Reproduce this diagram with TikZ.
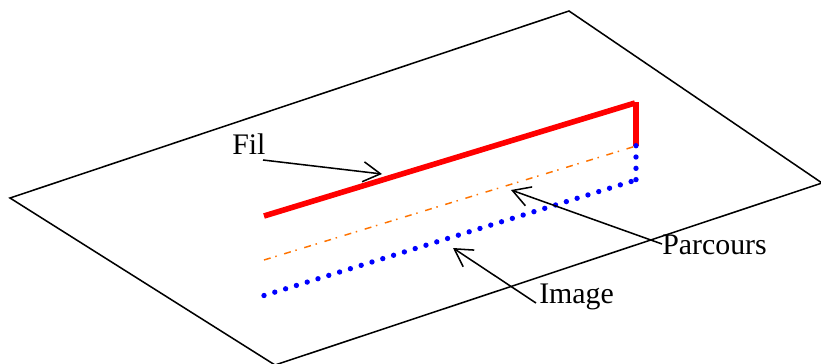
\documentclass[tikz,border=0pt]{standalone}
\usepackage{fontspec}
\setmainfont{Liberation Serif}
\usetikzlibrary{arrows.meta}
\begin{document}
\begin{tikzpicture}[x=0.75pt,y=-0.75pt,
  plane/.style={draw=black,line width=1.15pt,line join=miter},
  wire/.style={draw=red,line width=4.2pt},
  pathline/.style={draw=orange!90!red,line width=1.1pt,dash pattern=on 5.2pt off 3.6pt on 1.1pt off 5.9pt},
  imageline/.style={draw=blue,line width=4pt,line cap=round,dash pattern=on 0pt off 8.48pt},
  label/.style={inner sep=0pt,font=\fontsize{22.4}{26}\selectfont,anchor=base west,text=black},
  pointer/.style={draw=black,line width=1.15pt,-{Straight Barb[length=13pt,width=15pt,line width=1.15pt]}}]
\useasboundingbox (0,0) rectangle (821,364);
\draw[plane] (10,198) -- (569,11) -- (822,183) -- (275,365) -- cycle;
% wire
\coordinate (w1) at (264,216);
\coordinate (w2) at (635,103);
\coordinate (w3) at (636,102);
\coordinate (w4) at (636,146);
\draw[wire] (w1) -- (w2);
\draw[wire] (w3) -- (w4);
% path
\coordinate (p1) at (264,260);
\coordinate (p2) at (636,146);
\draw[pathline] (p1) -- (p2);
% image
\coordinate (i1) at (264,295.5);
\coordinate (i2) at (636,180);
\coordinate (i3) at (636,145.7);
\draw[imageline] (i1) -- (i2);
\draw[imageline] (i3) -- (i2);
% labels
\node[label] (fil) at (232,154) {Fil};
\node[label] (parcours) at (662,254) {Parcours};
\node[label] (image) at (539,303) {Image};
\coordinate (fs) at (263,160);
\coordinate (ft) at (382,174);
\coordinate (ps) at (662,244);
\coordinate (pt) at (511,190);
\coordinate (is) at (536,303);
\coordinate (it) at (453,248);
\draw[pointer] (fs) -- (ft);
\draw[pointer] (ps) -- (pt);
\draw[pointer] (is) -- (it);
\end{tikzpicture}
\end{document}
